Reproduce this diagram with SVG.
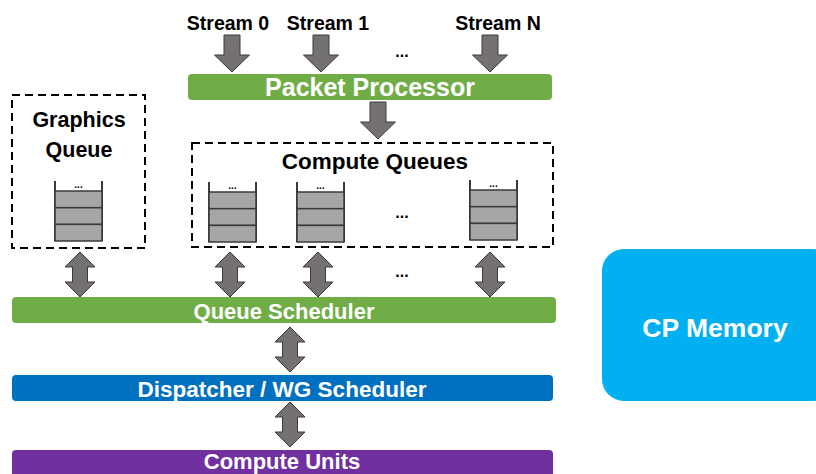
<svg xmlns="http://www.w3.org/2000/svg" xmlns:xlink="http://www.w3.org/1999/xlink" width="816" height="474" viewBox="0 0 816 474">
  <style>
    .lbl { font-family: "Liberation Sans", Arial, sans-serif; font-weight: bold; text-anchor: middle; }
    .blk { fill: #000000; }
    .wht { fill: #ffffff; }
    .arrow { fill: #767171; stroke: #3a3a3a; stroke-width: 1; stroke-linejoin: miter; }
    .dash { fill: none; stroke: #000000; stroke-width: 2; stroke-dasharray: 8 5; }
    .cell { fill: #a6a6a6; stroke: #3a3a3a; stroke-width: 1.5; }
    .side { stroke: #3a3a3a; stroke-width: 2; }
  </style>
  <defs>
    <!-- single-headed block arrow pointing down, origin at top centre -->
    <path id="down" d="M-8,0 H8 V20 H17.5 L0,37 L-17.5,20 H-8 Z"/>
    <!-- double-headed vertical block arrow, origin at top tip -->
    <path id="updown" d="M0,0 L15,15 H7.5 V30 H15 L0,45 L-15,30 H-7.5 V15 H-15 Z"/>
    <!-- queue stack: open top with three entries -->
    <g id="stack">
      <line class="side" x1="0" y1="0" x2="0" y2="60"/>
      <line class="side" x1="47" y1="0" x2="47" y2="60"/>
      <rect class="cell" x="0" y="10" width="47" height="16.7"/>
      <rect class="cell" x="0" y="26.7" width="47" height="16.7"/>
      <rect class="cell" x="0" y="43.4" width="47" height="16.6"/>
      <text class="lbl blk" x="23.5" y="7" font-size="10">...</text>
    </g>
  </defs>

  <rect width="816" height="474" fill="#ffffff"/>

  <g id="streams">
    <text class="lbl blk" x="228" y="30" font-size="19.5">Stream 0</text>
    <text class="lbl blk" x="328" y="30" font-size="19.5">Stream 1</text>
    <text class="lbl blk" x="402" y="57" font-size="16">...</text>
    <text class="lbl blk" x="498" y="30" font-size="19.5">Stream N</text>
  </g>

  <g id="packet-processor">
    <rect x="188" y="74" width="364" height="26" rx="4" fill="#70ad47"/>
    <text class="lbl wht" x="370" y="96" font-size="25">Packet Processor</text>
  </g>

  <g id="graphics-queue">
    <rect class="dash" x="12" y="95" width="133" height="153"/>
    <text class="lbl blk" x="79" y="127" font-size="21.5">Graphics</text>
    <text class="lbl blk" x="79" y="157" font-size="21.5">Queue</text>
    <use xlink:href="#stack" x="55" y="181"/>
  </g>

  <g id="compute-queues">
    <rect class="dash" x="192" y="143" width="361" height="104"/>
    <text class="lbl blk" x="375" y="169" font-size="22.5">Compute Queues</text>
    <use xlink:href="#stack" x="209" y="182"/>
    <use xlink:href="#stack" x="297" y="182"/>
    <text class="lbl blk" x="402" y="218" font-size="16">...</text>
    <use xlink:href="#stack" x="470" y="180"/>
  </g>

  <g id="queue-scheduler">
    <rect x="12" y="297" width="544" height="26" rx="4" fill="#70ad47"/>
    <text class="lbl wht" x="284" y="319" font-size="22">Queue Scheduler</text>
  </g>

  <g id="dispatcher">
    <rect x="12" y="375" width="541" height="26" rx="4" fill="#0070c0"/>
    <text class="lbl wht" x="282" y="397" font-size="22.5">Dispatcher / WG Scheduler</text>
  </g>

  <g id="compute-units">
    <rect x="12" y="450" width="541" height="40" rx="4" fill="#7030a0"/>
    <text class="lbl wht" x="282" y="469" font-size="22">Compute Units</text>
  </g>

  <g id="cp-memory">
    <rect x="602" y="249" width="232" height="152" rx="22" fill="#00b0f0"/>
    <text class="lbl wht" x="715" y="337" font-size="26.5">CP Memory</text>
  </g>

  <g id="connectors">
    <use class="arrow" xlink:href="#down" x="232" y="35"/>
    <use class="arrow" xlink:href="#down" x="321" y="35"/>
    <use class="arrow" xlink:href="#down" x="490" y="35"/>
    <use class="arrow" xlink:href="#down" x="378" y="102"/>
    <use class="arrow" xlink:href="#updown" x="80" y="252"/>
    <use class="arrow" xlink:href="#updown" x="230" y="252"/>
    <use class="arrow" xlink:href="#updown" x="318" y="252"/>
    <text class="lbl blk" x="402" y="277" font-size="16">...</text>
    <use class="arrow" xlink:href="#updown" x="490" y="252"/>
    <use class="arrow" xlink:href="#updown" x="290" y="327"/>
    <use class="arrow" xlink:href="#updown" x="290" y="402"/>
  </g>
</svg>
